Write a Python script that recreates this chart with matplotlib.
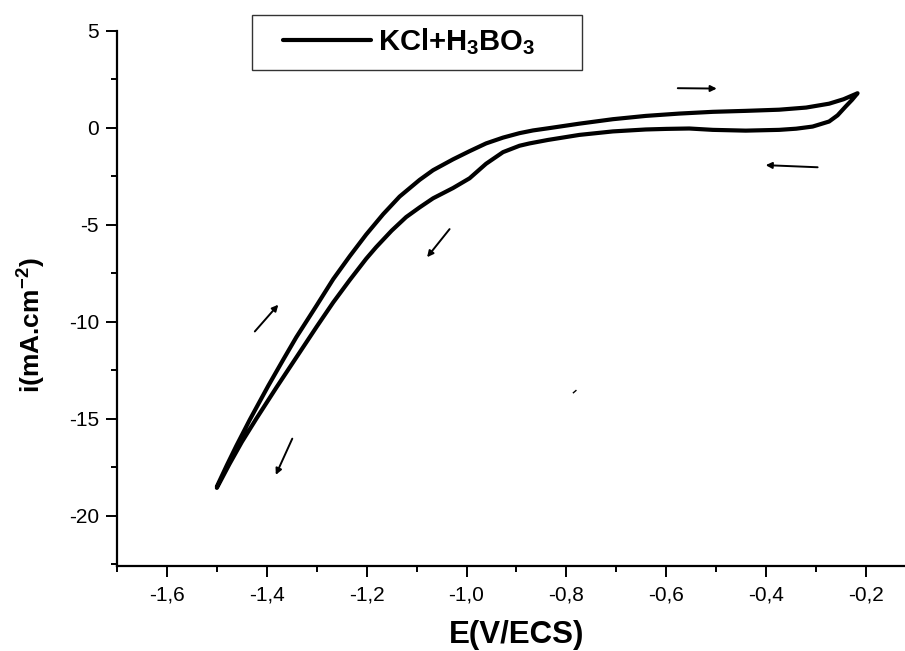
import matplotlib
matplotlib.use("Agg")
import matplotlib.pyplot as plt
from matplotlib.patches import Rectangle
from matplotlib.ticker import FixedLocator, MultipleLocator

# ---------------- data ----------------
# forward (anodic) scan, upper branch
E_fwd = [-1.500, -1.480, -1.461, -1.434, -1.397, -1.367, -1.341, -1.300, -1.267,
         -1.234, -1.201, -1.167, -1.134, -1.094, -1.067, -1.027, -0.994, -0.961,
         -0.927, -0.894, -0.867, -0.837, -0.774, -0.707, -0.641, -0.574, -0.507,
         -0.441, -0.374, -0.320, -0.274, -0.245, -0.217]
i_fwd = [-18.5, -17.4, -16.4, -15.05, -13.3, -11.95, -10.8, -9.15, -7.8,
         -6.62, -5.5, -4.45, -3.54, -2.68, -2.18, -1.62, -1.2, -0.8,
         -0.5, -0.27, -0.13, -0.02, 0.22, 0.45, 0.62, 0.74, 0.83,
         0.88, 0.94, 1.05, 1.25, 1.48, 1.79]
# reverse (cathodic) scan, lower branch
E_rev = [-0.217, -0.228, -0.241, -0.257, -0.274, -0.307, -0.340, -0.374, -0.441,
         -0.507, -0.554, -0.600, -0.641, -0.707, -0.774, -0.837, -0.874, -0.894,
         -0.927, -0.961, -0.994, -1.027, -1.067, -1.094, -1.121, -1.150, -1.181,
         -1.201, -1.234, -1.267, -1.300, -1.327, -1.354, -1.381, -1.421, -1.450,
         -1.475, -1.500]
i_rev = [1.79, 1.45, 1.1, 0.65, 0.33, 0.07, -0.04, -0.10, -0.14,
         -0.10, -0.03, -0.05, -0.08, -0.18, -0.36, -0.62, -0.80, -0.92,
         -1.25, -1.85, -2.6, -3.1, -3.63, -4.1, -4.6, -5.3, -6.15,
         -6.75, -7.85, -9.0, -10.25, -11.3, -12.35, -13.4, -15.0, -16.2,
         -17.35, -18.57]

series_label = r"KCl+H$_3$BO$_3$"

# scan-direction arrows (tail -> head), data coordinates
arrow_tail_E = [-0.577, -0.297, -1.034, -1.424, -1.349]
arrow_tail_i = [2.05, -2.03, -5.22, -10.5, -16.03]
arrow_head_E = [-0.499, -0.401, -1.079, -1.377, -1.382]
arrow_head_i = [2.03, -1.92, -6.67, -9.12, -17.9]

# small stray mark in the original figure
stray_E = [-0.786, -0.781]
stray_i = [-13.66, -13.55]

xticks = [-1.6, -1.4, -1.2, -1.0, -0.8, -0.6, -0.4, -0.2]
xtick_labels = ["-1,6", "-1,4", "-1,2", "-1,0", "-0,8", "-0,6", "-0,4", "-0,2"]
yticks = [-20, -15, -10, -5, 0, 5]
ytick_labels = ["-20", "-15", "-10", "-5", "0", "5"]

# ---------------- style ----------------
plt.rcParams["font.family"] = ["Liberation Sans", "DejaVu Sans"]
plt.rcParams["axes.unicode_minus"] = False
plt.rcParams["mathtext.fontset"] = "custom"
plt.rcParams["mathtext.rm"] = "Liberation Sans:bold"
plt.rcParams["mathtext.it"] = "Liberation Sans:bold"
plt.rcParams["mathtext.bf"] = "Liberation Sans:bold"
plt.rcParams["mathtext.default"] = "regular"

W, H = 905, 651
fig = plt.figure(figsize=(W / 100, H / 100), dpi=100)
ax = fig.add_axes([117 / W, 1 - 566 / H, (905 - 117) / W, (566 - 31) / H])

E_all = E_fwd + E_rev
i_all = i_fwd + i_rev
line, = ax.plot(E_all, i_all, color="black", lw=3.0,
                solid_capstyle="round", solid_joinstyle="round",
                label=series_label)
ax.plot(stray_E, stray_i, color="black", lw=1.0)

for xt, yt, xh, yh in zip(arrow_tail_E, arrow_tail_i, arrow_head_E, arrow_head_i):
    ax.annotate("", xy=(xh, yh), xytext=(xt, yt),
                arrowprops=dict(arrowstyle="-|>", color="black", lw=1.4,
                                mutation_scale=9, shrinkA=0, shrinkB=0))

ax.set_xlim(-1.7, -0.122)
ax.set_ylim(-22.6, 5)

ax.xaxis.set_major_locator(FixedLocator(xticks))
ax.set_xticklabels(xtick_labels)
ax.xaxis.set_minor_locator(MultipleLocator(0.1))
ax.yaxis.set_major_locator(FixedLocator(yticks))
ax.set_yticklabels(ytick_labels)
ax.yaxis.set_minor_locator(MultipleLocator(2.5))

for s in ["top", "right"]:
    ax.spines[s].set_visible(False)
for s in ["left", "bottom"]:
    ax.spines[s].set_linewidth(1.6)

ax.tick_params(axis="both", which="major", direction="out", length=8,
               width=1.4, labelsize=15, colors="black")
ax.tick_params(axis="x", which="major", pad=6)
ax.tick_params(axis="y", which="major", pad=5)
ax.tick_params(axis="both", which="minor", direction="out", length=4, width=1.4)

ax.set_xlabel("E(V/ECS)", fontsize=22.5, fontweight="bold")
ax.set_ylabel(r"i(mA.cm$^{-2}$)", fontsize=19, fontweight="bold")
ax.xaxis.set_label_coords(0.5076, -0.100)
ax.yaxis.set_label_coords(-0.0876, 0.45)

# legend (frame drawn as rectangle to match its padding)
leg = fig.legend(handles=[line], labels=[series_label], loc="center left",
                 bbox_to_anchor=(283 / W, 1 - 42 / H), frameon=False,
                 borderpad=0, borderaxespad=0, handlelength=3.0,
                 handletextpad=0.25, prop={"size": 21, "weight": "bold"})
fig.add_artist(Rectangle((252 / W, 1 - 69.5 / H), (581.5 - 252) / W, (69.5 - 15) / H,
                         transform=fig.transFigure, fill=False,
                         edgecolor="#333333", lw=1.0))

fig.savefig("out.png", dpi=100)
